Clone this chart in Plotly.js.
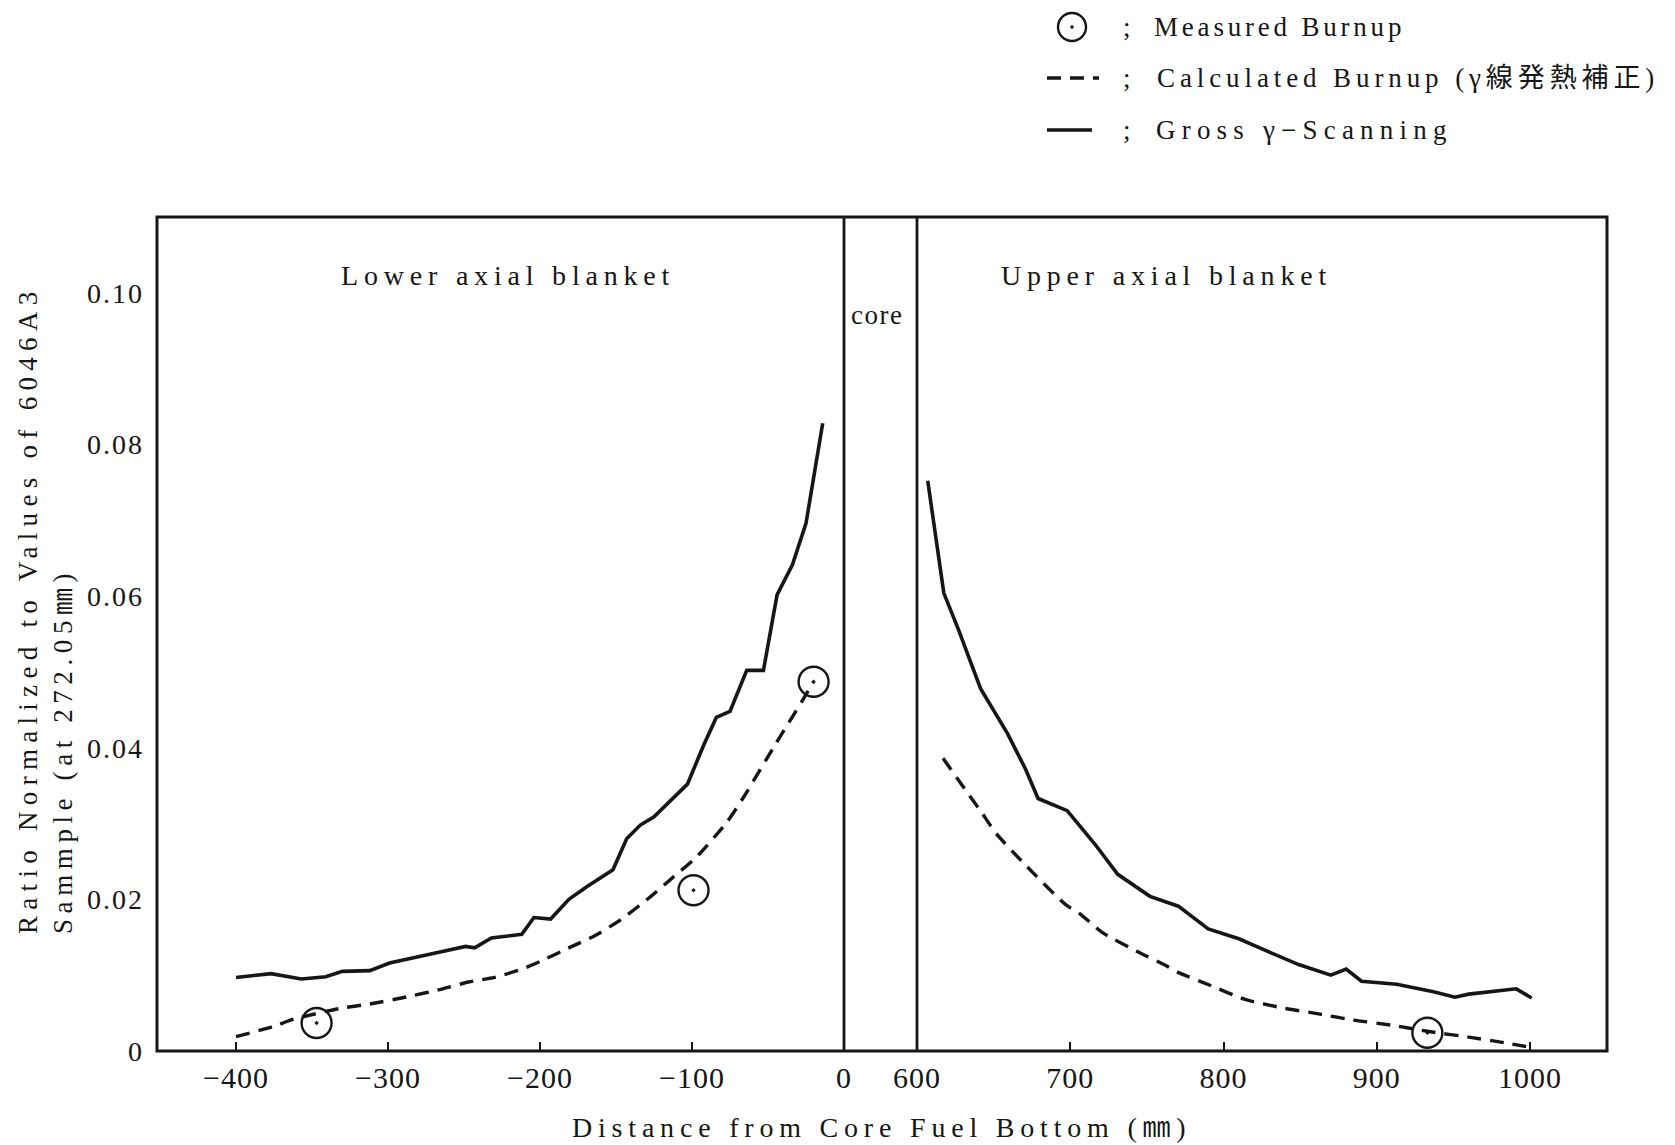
<!DOCTYPE html>
<html><head><meta charset="utf-8">
<script src="https://cdn.plot.ly/plotly-3.0.1.min.js"></script>
<style>html,body{margin:0;padding:0;background:#fff}</style>
</head><body>
<div id="chart" style="width:1675px;height:1145px"></div>
<script>
// ---- data ----
const grossLowerX = [-400,-377,-357,-341,-330,-312,-299,-282,-265,-249,-243,-232,-212,-204,-193,-181,-169,-152,-143,-134,-125,-103,-92,-84,-75,-64,-53,-44,-34,-25,-14];
const grossLowerY = [0.0097,0.0102,0.0095,0.0098,0.0105,0.0106,0.0116,0.0124,0.0131,0.0138,0.0136,0.0149,0.0154,0.0176,0.0174,0.0200,0.0217,0.0239,0.0280,0.0298,0.0309,0.0352,0.0405,0.0440,0.0448,0.0502,0.0502,0.0602,0.0641,0.0696,0.0828];
const grossUpperX = [607,617.5,627,641.5,659,671,679,698,716,731,752,770.5,790,810,827,849,870,880,890,913,937,951,960,991,1001];
const grossUpperY = [0.0752,0.0604,0.0556,0.0478,0.0419,0.0371,0.0333,0.0317,0.0273,0.0233,0.0204,0.0191,0.0161,0.0148,0.0133,0.0114,0.0100,0.0108,0.0092,0.0088,0.0078,0.0071,0.0075,0.0082,0.0070];
const calcLowerX = [-400,-376,-362,-332,-312,-286,-264,-247,-230,-212,-199,-180,-164,-147,-127,-112,-97,-77,-66,-45,-28,-20];
const calcLowerY = [0.0019,0.0032,0.0042,0.0056,0.0062,0.0072,0.0082,0.0091,0.0097,0.0108,0.0119,0.0137,0.0152,0.0173,0.0204,0.0230,0.0256,0.0302,0.0335,0.0405,0.0460,0.0487];
const calcUpperX = [617,631,643,652,669,697,707,721,744,762,770,792,814,838,862,884,910,933,961,980,1000];
const calcUpperY = [0.0386,0.0346,0.0312,0.0286,0.0249,0.0193,0.0180,0.0156,0.0131,0.0113,0.0104,0.0086,0.0068,0.0057,0.0049,0.0041,0.0034,0.0026,0.0018,0.0012,0.0005];
const measLowerX = [-347,-99,-20];
const measLowerY = [0.0037,0.0212,0.0487];
const measUpperX = [933];
const measUpperY = [0.0024];
const xTickValsLower = [-400,-300,-200,-100,0];
const xTickTextLower = ['\u2212400','\u2212300','\u2212200','\u2212100','0'];
const xTickValsUpper = [600,700,800,900,1000];
const xTickTextUpper = ['600','700','800','900','1000'];
const yTickVals = [0,0.02,0.04,0.06,0.08,0.10];
const yTickText = ['0','0.02','0.04','0.06','0.08','0.10'];
const legendTexts = ['Measured Burnup','Calculated Burnup (\u03b3\u7dda\u767a\u71b1\u88dc\u6b63)','Gross \u03b3\u2212Scanning'];

// ---- layout helpers ----
const FONT = '"Liberation Serif", "Noto Sans CJK JP", serif';
const INK = '#161616';
const L = 157, R = 1607, T = 217, B = 1051;
const pw = R - L, ph = B - T;
const px = x => (x - L) / pw;
const py = y => (B - y) / ph;
const sp = (t, s) => '<span style="letter-spacing:' + s + 'px">' + t + '</span>';
const lowerDomainEnd = px(844);   // x = 0 mm (core bottom)
const upperDomainStart = px(917); // x = 600 mm (core top)

const DASH = '14px,9px';
const traces = [
  {x: grossLowerX, y: grossLowerY, xaxis: 'x', yaxis: 'y', mode: 'lines', line: {color: INK, width: 3.6}, hoverinfo: 'skip'},
  {x: grossUpperX, y: grossUpperY, xaxis: 'x2', yaxis: 'y', mode: 'lines', line: {color: INK, width: 3.6}, hoverinfo: 'skip'},
  {x: calcLowerX, y: calcLowerY, xaxis: 'x', yaxis: 'y', mode: 'lines', line: {color: INK, width: 3.4, dash: DASH, shape: 'spline', smoothing: 0.6}, hoverinfo: 'skip'},
  {x: calcUpperX, y: calcUpperY, xaxis: 'x2', yaxis: 'y', mode: 'lines', line: {color: INK, width: 3.4, dash: DASH, shape: 'spline', smoothing: 0.6}, hoverinfo: 'skip'},
  {x: measLowerX, y: measLowerY, xaxis: 'x', yaxis: 'y', mode: 'markers', marker: {symbol: 'circle-open-dot', size: 30, color: INK, line: {width: 2.4, color: INK}}, hoverinfo: 'skip'},
  {x: measUpperX, y: measUpperY, xaxis: 'x2', yaxis: 'y', mode: 'markers', marker: {symbol: 'circle-open-dot', size: 30, color: INK, line: {width: 2.4, color: INK}}, hoverinfo: 'skip'}
];

const tickFont = {family: FONT, size: 30, color: INK};
const commonX = {ticks: 'inside', ticklen: 9, tickwidth: 2, tickcolor: INK, showgrid: false, zeroline: false, showline: false, tickfont: tickFont, anchor: 'y', ticklabelstandoff: 6, fixedrange: true};

const layout = {
  width: 1675, height: 1145,
  margin: {l: L, r: 1675 - R, t: T, b: 1145 - B, pad: 0},
  paper_bgcolor: '#fff', plot_bgcolor: '#fff',
  showlegend: false,
  font: {family: FONT, color: INK},
  xaxis: Object.assign({}, commonX, {domain: [0, lowerDomainEnd], range: [-452, 0], tickmode: 'array', tickvals: xTickValsLower, ticktext: xTickTextLower.map(t => sp(t, 1))}),
  xaxis2: Object.assign({}, commonX, {domain: [upperDomainStart, 1], range: [600, 1050.2], tickmode: 'array', tickvals: xTickValsUpper, ticktext: xTickTextUpper.map(t => sp(t, 1))}),
  yaxis: {domain: [0, 1], range: [0, 0.11], tickmode: 'array', tickvals: yTickVals, ticktext: yTickText.map(t => sp(t, 2)), ticks: '', showgrid: false, zeroline: false, showline: false, tickfont: {family: FONT, size: 28, color: INK}, ticklabelstandoff: 12, fixedrange: true},
  shapes: [
    {type: 'rect', xref: 'paper', yref: 'paper', x0: 0, x1: 1, y0: 0, y1: 1, line: {color: INK, width: 3}},
    // core boundaries (0 mm and 600 mm) at the domain edges of the two x axes
    {type: 'line', xref: 'paper', yref: 'paper', x0: lowerDomainEnd, x1: lowerDomainEnd, y0: 0, y1: 1, line: {color: INK, width: 2.8}},
    {type: 'line', xref: 'paper', yref: 'paper', x0: upperDomainStart, x1: upperDomainStart, y0: 0, y1: 1, line: {color: INK, width: 2.8}},
    // legend samples
    {type: 'circle', xref: 'paper', yref: 'paper', xsizemode: 'pixel', ysizemode: 'pixel', xanchor: px(1072), yanchor: py(27), x0: -14, x1: 14, y0: -14, y1: 14, line: {color: INK, width: 2.4}},
    {type: 'circle', xref: 'paper', yref: 'paper', xsizemode: 'pixel', ysizemode: 'pixel', xanchor: px(1072), yanchor: py(27), x0: -1.8, x1: 1.8, y0: -1.8, y1: 1.8, fillcolor: INK, line: {color: INK, width: 0}},
    {type: 'line', xref: 'paper', yref: 'paper', x0: px(1047), x1: px(1099), y0: py(78), y1: py(78), line: {color: INK, width: 3.6, dash: DASH}},
    {type: 'line', xref: 'paper', yref: 'paper', x0: px(1047), x1: px(1092), y0: py(130), y1: py(130), line: {color: INK, width: 3.6}}
  ],
  annotations: [
    {xref: 'paper', yref: 'paper', x: px(508), y: py(275), text: sp('Lower axial blanket', 5.8), showarrow: false, font: {family: FONT, size: 28, color: INK}, xanchor: 'center', yanchor: 'middle'},
    {xref: 'paper', yref: 'paper', x: px(1166), y: py(275), text: sp('Upper axial blanket', 5.8), showarrow: false, font: {family: FONT, size: 28, color: INK}, xanchor: 'center', yanchor: 'middle'},
    {xref: 'paper', yref: 'paper', x: px(877), y: py(315), text: sp('core', 1.5), showarrow: false, font: {family: FONT, size: 27, color: INK}, xanchor: 'center', yanchor: 'middle'},
    {xref: 'paper', yref: 'paper', x: px(881), y: py(1127), text: sp('Distance from Core Fuel Bottom (\u339c)', 5.8), showarrow: false, font: {family: FONT, size: 28, color: INK}, xanchor: 'center', yanchor: 'middle'},
    {xref: 'paper', yref: 'paper', x: px(45), y: py(936), text: sp('Ratio Normalized to Values of 6046A3', 6.3) + '<br>' + sp('Sammple (at 272.05\u339c)', 5.6), showarrow: false, textangle: -90, align: 'left', font: {family: FONT, size: 27, color: INK}, xanchor: 'center', yanchor: 'bottom'},
    // legend texts
    {xref: 'paper', yref: 'paper', x: px(1121), y: py(27), text: ';', showarrow: false, font: {family: FONT, size: 27, color: INK}, xanchor: 'left', yanchor: 'middle'},
    {xref: 'paper', yref: 'paper', x: px(1121), y: py(78), text: ';', showarrow: false, font: {family: FONT, size: 27, color: INK}, xanchor: 'left', yanchor: 'middle'},
    {xref: 'paper', yref: 'paper', x: px(1121), y: py(130), text: ';', showarrow: false, font: {family: FONT, size: 27, color: INK}, xanchor: 'left', yanchor: 'middle'},
    {xref: 'paper', yref: 'paper', x: px(1152), y: py(27), text: sp(legendTexts[0], 3.8), showarrow: false, font: {family: FONT, size: 27, color: INK}, xanchor: 'left', yanchor: 'middle'},
    {xref: 'paper', yref: 'paper', x: px(1155), y: py(78), text: sp(legendTexts[1], 4.9), showarrow: false, font: {family: FONT, size: 27, color: INK}, xanchor: 'left', yanchor: 'middle'},
    {xref: 'paper', yref: 'paper', x: px(1154), y: py(130), text: sp(legendTexts[2], 6.2), showarrow: false, font: {family: FONT, size: 27, color: INK}, xanchor: 'left', yanchor: 'middle'}
  ]
};

Plotly.newPlot('chart', traces, layout, {staticPlot: true, displayModeBar: false});
</script>
</body></html>
